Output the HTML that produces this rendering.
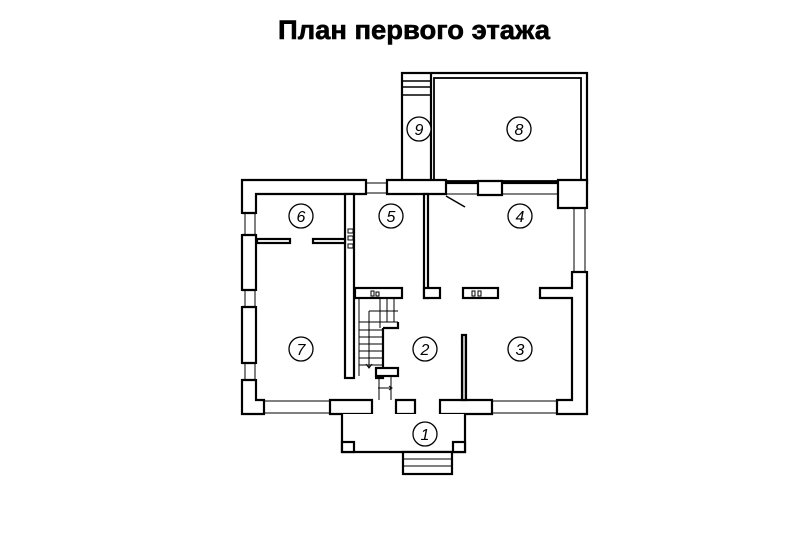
<!DOCTYPE html>
<html><head><meta charset="utf-8"><style>
html,body{margin:0;padding:0;background:#fff;}
svg{display:block;}
text{font-family:"Liberation Sans",sans-serif;}
</style></head><body>
<svg width="800" height="533" viewBox="0 0 800 533" xmlns="http://www.w3.org/2000/svg">
<rect width="800" height="533" fill="#fff"/>
<text x="414" y="39" font-size="27" font-weight="bold" text-anchor="middle" textLength="272" lengthAdjust="spacingAndGlyphs" fill="#000" stroke="#000" stroke-width="0.6">План первого этажа</text>

<g fill="#fff" stroke="#000" stroke-width="2.2">
<rect x="402" y="73" width="185" height="110"/>
<rect x="434" y="78" width="147" height="103" stroke-width="1.8"/>
<line x1="431" y1="73" x2="431" y2="183"/>
<line x1="402" y1="81" x2="431" y2="81" stroke-width="1.5"/>
<line x1="402" y1="87" x2="431" y2="87" stroke-width="1.5"/>
<line x1="402" y1="95" x2="431" y2="95" stroke-width="1.5"/>

<path d="M242 180 L366 180 L366 194 L256 194 L256 400 L264 400 L264 414 L242 414 Z"/>
<path d="M387 180 L446 180 L446 194 L387 194 Z"/>
<path d="M478 181 L502 181 L502 195 L478 195 Z"/>
<path d="M558 180 L587 180 L587 414 L557 414 L557 400 L572 400 L572 298 L540 298 L540 288 L572 288 L572 208 L558 208 Z"/>
<path d="M330 400 L372 400 L372 414 L330 414 Z"/>
<path d="M396 400 L415 400 L415 414 L396 414 Z"/>
<path d="M440 400 L492 400 L492 414 L440 414 Z"/>
</g>
<g fill="#fff" stroke="none">
<rect x="240" y="214" width="18" height="20"/>
<rect x="240" y="291" width="18" height="15"/>
<rect x="240" y="364" width="18" height="15"/>
<rect x="570" y="209" width="20" height="62"/>
</g>
<g stroke="#000" stroke-width="2.2" fill="none">
<path d="M242 213 L256 213 M242 235 L256 235 M242 290 L256 290 M242 307 L256 307 M242 363 L256 363 M242 380 L256 380"/>
<path d="M572 208 L587 208 M572 272 L587 272"/>
</g>
<g stroke="#000" stroke-width="1" fill="none">
<line x1="366" y1="183" x2="387" y2="183"/><line x1="366" y1="193" x2="387" y2="193"/>
<line x1="446" y1="182" x2="478" y2="182"/><line x1="446" y1="194" x2="478" y2="194"/>
<line x1="502" y1="182" x2="558" y2="182"/><line x1="502" y1="194" x2="558" y2="194"/>
<line x1="264" y1="401" x2="330" y2="401"/><line x1="264" y1="413" x2="330" y2="413"/>
<line x1="492" y1="401" x2="557" y2="401"/><line x1="492" y1="413" x2="557" y2="413"/>
<line x1="574" y1="208" x2="574" y2="272"/><line x1="585" y1="208" x2="585" y2="272"/>
<line x1="245" y1="213" x2="245" y2="235"/><line x1="255" y1="213" x2="255" y2="235"/>
<line x1="245" y1="290" x2="245" y2="307"/><line x1="255" y1="290" x2="255" y2="307"/>
<line x1="245" y1="363" x2="245" y2="380"/><line x1="255" y1="363" x2="255" y2="380"/>
<line x1="446" y1="196" x2="465" y2="207" stroke-width="1.5"/>
</g>
<g fill="#fff" stroke="#000" stroke-width="2.2">
<rect x="345" y="194" width="9" height="184"/>
<rect x="424" y="194" width="4" height="104"/>
<rect x="355" y="288" width="47" height="10"/>
<rect x="424" y="288" width="16" height="10"/>
<rect x="463" y="288" width="35" height="10"/>
<rect x="257" y="239" width="33" height="4"/>
<rect x="313" y="239" width="32" height="4"/>
<rect x="462" y="335" width="4" height="65" fill="#ccc"/>
<path d="M383 328 L383 378 L375 378 M383 328 L398 328 L398 322"/>
<rect x="376" y="368" width="22" height="8"/>
<path d="M342 414 L342 452 L465 452 L465 414"/>
<rect x="342" y="442" width="12" height="10"/>
<rect x="453" y="442" width="12" height="10"/>
<rect x="403" y="452" width="49" height="22"/>
</g>
<g stroke="#000" stroke-width="1" fill="none">
<line x1="403" y1="459" x2="452" y2="459"/><line x1="403" y1="466" x2="452" y2="466"/>
<line x1="359" y1="298" x2="359" y2="376"/>
<line x1="380" y1="298" x2="380" y2="328"/><line x1="387" y1="298" x2="387" y2="322"/><line x1="394" y1="298" x2="394" y2="322"/>
<line x1="359" y1="322" x2="398" y2="322"/>
<line x1="359" y1="330" x2="383" y2="330"/><line x1="359" y1="337" x2="383" y2="337"/><line x1="359" y1="344" x2="383" y2="344"/>
<line x1="359" y1="351" x2="383" y2="351"/><line x1="359" y1="358" x2="383" y2="358"/><line x1="359" y1="365" x2="383" y2="365"/>
<path d="M369 311 L398 311 M369 311 L369 368 M366 364 L369 368 L372 364"/>
<line x1="379" y1="376" x2="379" y2="400"/><line x1="391" y1="376" x2="391" y2="400"/>
<path d="M378 388 L392 388 M389 386 L392 388 L389 390"/>
<rect x="348" y="229" width="5" height="4"/><rect x="348" y="236" width="5" height="4"/><rect x="348" y="244" width="5" height="4"/>
<rect x="371" y="291" width="3" height="5"/><rect x="376" y="292" width="3" height="4"/>
<rect x="472" y="291" width="3" height="5"/><rect x="478" y="291" width="3" height="5"/>
</g>
<g fill="#fff" stroke="#000" stroke-width="1.3">
<circle cx="419" cy="129" r="12"/><circle cx="519" cy="129" r="12"/>
<circle cx="301" cy="216" r="12"/><circle cx="391" cy="216" r="12"/><circle cx="520" cy="216" r="12"/>
<circle cx="301" cy="349" r="12"/><circle cx="425" cy="349" r="12"/><circle cx="520" cy="349" r="12"/>
<circle cx="425" cy="434" r="12"/>
</g>
<g fill="#000" font-size="16" font-style="italic" text-anchor="middle">
<text x="419" y="135">9</text><text x="519" y="135">8</text>
<text x="301" y="222">6</text><text x="391" y="222">5</text><text x="520" y="222">4</text>
<text x="301" y="355">7</text><text x="425" y="355">2</text><text x="520" y="355">3</text>
<text x="425" y="440">1</text>
</g>
</svg>
</body></html>
